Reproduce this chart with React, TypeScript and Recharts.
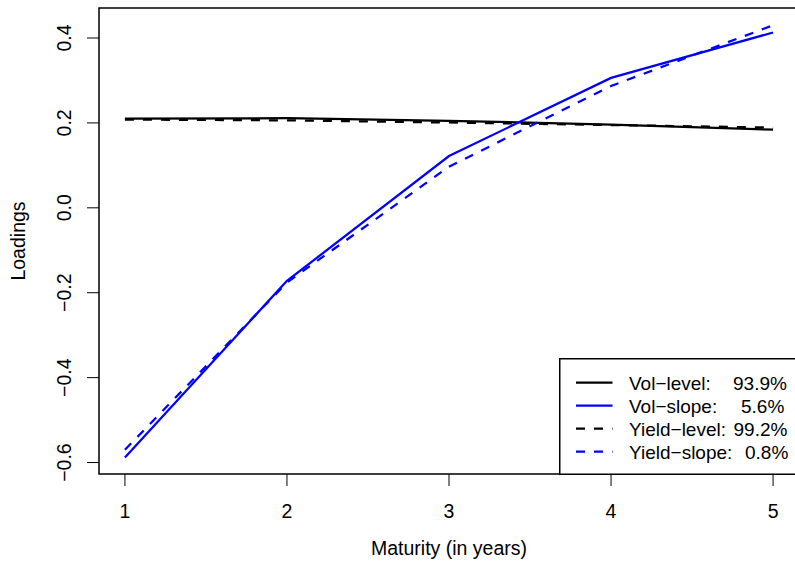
import React from "react"
import { LineChart, Line, XAxis, YAxis, ReferenceArea } from "recharts"

const maturities = [1, 2, 3, 4, 5]
const volLevel = [0.21, 0.211, 0.205, 0.196, 0.184]
const volSlope = [-0.588, -0.172, 0.122, 0.306, 0.413]
const yieldLevel = [0.208, 0.206, 0.201, 0.195, 0.189]
const yieldSlope = [-0.57, -0.176, 0.097, 0.287, 0.43]

const xTicks = [1, 2, 3, 4, 5]
const yTicks = [-0.6, -0.4, -0.2, 0, 0.2, 0.4]

const legendRows = [
  { label: "Vol\u2212level:", value: "93.9%", color: "#000000", dash: undefined, vx: 174 },
  { label: "Vol\u2212slope:", value: "5.6%", color: "#0000ff", dash: undefined, vx: 182 },
  { label: "Yield\u2212level:", value: "99.2%", color: "#000000", dash: "9 9", vx: 174.5 },
  { label: "Yield\u2212slope:", value: "0.8%", color: "#0000ff", dash: "9 9", vx: 186 },
]

const data = maturities.map((m, i) => ({
  m,
  volLevel: volLevel[i],
  volSlope: volSlope[i],
  yieldLevel: yieldLevel[i],
  yieldSlope: yieldSlope[i],
}))

const FONT = "'Liberation Sans', Arial, Helvetica, sans-serif"
const FS = 19.5
const LEG_FS = 19
const xDomain = [0.84, 5.16]
const yDomain = [-0.627, 0.4707]

function fmt(v: number) {
  return v < 0 ? "\u2212" + Math.abs(v).toFixed(1) : v.toFixed(1)
}

function YTick(props: any) {
  const { y, payload } = props
  return (
    <text
      x={0}
      y={0}
      transform={`translate(71, ${y}) rotate(-90)`}
      textAnchor="middle"
      fontSize={FS}
      fontFamily={FONT}
      fill="#000"
    >
      {fmt(payload.value)}
    </text>
  )
}

function XTick(props: any) {
  const { x, payload } = props
  return (
    <text x={x} y={518} textAnchor="middle" fontSize={FS} fontFamily={FONT} fill="#000">
      {payload.value}
    </text>
  )
}

function Legendbox() {
  return (
    <svg width={240} height={117} style={{ position: "absolute", left: 559, top: 358 }}>
      <rect x={0.75} y={0.75} width={250} height={115.5} fill="#fff" stroke="#000" strokeWidth={1.5} />
      {legendRows.map((r, i) => {
        const cy = 24.7 + i * 23
        return (
          <g key={r.label}>
            <line
              x1={17}
              x2={53.5}
              y1={cy}
              y2={cy}
              stroke={r.color}
              strokeWidth={2.25}
              strokeDasharray={r.dash}
            />
            <text x={70} y={cy + 7} fontSize={LEG_FS} fontFamily={FONT} fill="#000">
              {r.label}
            </text>
            <text x={r.vx} y={cy + 7} fontSize={LEG_FS} fontFamily={FONT} fill="#000">
              {r.value}
            </text>
          </g>
        )
      })}
    </svg>
  )
}

export default function App() {
  return (
    <div
      style={{
        position: "absolute",
        left: 0,
        top: 0,
        width: 795,
        height: 568,
        overflow: "hidden",
        background: "#fff",
      }}
    >
      <LineChart width={799} height={568} data={data} margin={{ top: 8, right: 0, bottom: 0, left: 0 }}>
        <XAxis
          dataKey="m"
          type="number"
          domain={xDomain}
          ticks={xTicks}
          allowDataOverflow
          height={94}
          tickSize={12}
          axisLine={false}
          tickLine={{ stroke: "#000", strokeWidth: 1 }}
          tick={<XTick />}
          label={{
            content: () => (
              <text x={449} y={555} textAnchor="middle" fontSize={FS} fontFamily={FONT} fill="#000">
                Maturity (in years)
              </text>
            ),
          }}
        />
        <YAxis
          type="number"
          domain={yDomain}
          ticks={yTicks}
          allowDataOverflow
          width={99}
          tickSize={12}
          axisLine={false}
          tickLine={{ stroke: "#000", strokeWidth: 1 }}
          tick={<YTick />}
          label={{
            content: () => (
              <text
                x={0}
                y={0}
                transform="translate(25, 241) rotate(-90)"
                textAnchor="middle"
                fontSize={FS}
                fontFamily={FONT}
                fill="#000"
              >
                Loadings
              </text>
            ),
          }}
        />
        <ReferenceArea
          x1={xDomain[0]}
          x2={xDomain[1]}
          y1={yDomain[0]}
          y2={yDomain[1]}
          fill="none"
          fillOpacity={0}
          stroke="#000"
          strokeWidth={1.5}
        />
        <Line dataKey="volLevel" stroke="#000" strokeWidth={2.25} dot={false} isAnimationActive={false} />
        <Line dataKey="volSlope" stroke="#0000ff" strokeWidth={2.25} dot={false} isAnimationActive={false} />
        <Line
          dataKey="yieldLevel"
          stroke="#000"
          strokeWidth={2.25}
          strokeDasharray="9 9"
          dot={false}
          isAnimationActive={false}
        />
        <Line
          dataKey="yieldSlope"
          stroke="#0000ff"
          strokeWidth={2.25}
          strokeDasharray="9 9"
          dot={false}
          isAnimationActive={false}
        />
      </LineChart>
      <Legendbox />
    </div>
  )
}
